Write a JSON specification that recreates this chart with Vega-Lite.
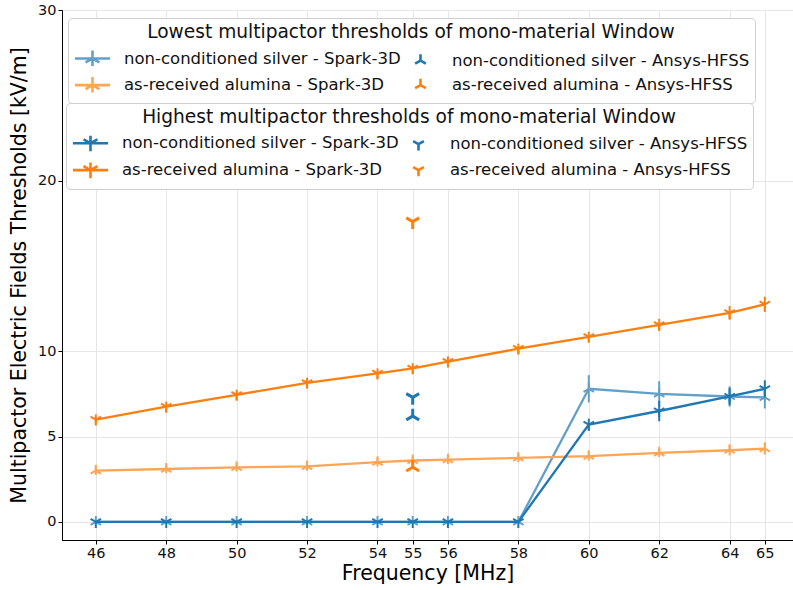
{
  "$schema": "https://vega.github.io/schema/vega-lite/v6.json",
  "width": 731,
  "height": 530,
  "autosize": {"type": "none"},
  "padding": {"left": 62, "top": 10, "right": 0, "bottom": 50},
  "config": {
    "font": "DejaVu Sans",
    "view": {"stroke": "#333", "strokeWidth": 1},
    "axis": {
      "domainColor": "#000", "tickColor": "#000", "tickSize": 4,
      "labelColor": "#111", "labelFontSize": 14.5, "titleColor": "#000",
      "titleFontSize": 20.5, "titleFontWeight": "normal",
      "gridColor": "#e6e6e6", "gridWidth": 1
    },
    "legend": {
      "titleFontSize": 18.6, "titleFontWeight": "normal", "titleColor": "#111",
      "titleAnchor": "middle", "titleLimit": 900, "labelFontSize": 16.5, "labelColor": "#111",
      "labelLimit": 600, "fillColor": "white", "strokeColor": "#d0d0d0",
      "cornerRadius": 4, "padding": 5, "rowPadding": 0, "columnPadding": -5,
      "symbolOpacity": 1, "symbolStrokeWidth": 2.6, "symbolFillColor": "transparent",
      "titlePadding": 4, "labelOffset": 19, "symbolOffset": 7, "symbolSize": 484
    }
  },
  "data": {"values": [
    {"f": 46, "v": 0, "lo": 0, "hi": 0, "series": "non-conditioned silver - Spark-3D", "grp": "low", "tool": "Spark"},
    {"f": 48, "v": 0, "lo": 0, "hi": 0, "series": "non-conditioned silver - Spark-3D", "grp": "low", "tool": "Spark"},
    {"f": 50, "v": 0, "lo": 0, "hi": 0, "series": "non-conditioned silver - Spark-3D", "grp": "low", "tool": "Spark"},
    {"f": 52, "v": 0, "lo": 0, "hi": 0, "series": "non-conditioned silver - Spark-3D", "grp": "low", "tool": "Spark"},
    {"f": 54, "v": 0, "lo": 0, "hi": 0, "series": "non-conditioned silver - Spark-3D", "grp": "low", "tool": "Spark"},
    {"f": 55, "v": 0, "lo": 0, "hi": 0, "series": "non-conditioned silver - Spark-3D", "grp": "low", "tool": "Spark"},
    {"f": 56, "v": 0, "lo": 0, "hi": 0, "series": "non-conditioned silver - Spark-3D", "grp": "low", "tool": "Spark"},
    {"f": 58, "v": 0, "lo": 0, "hi": 0, "series": "non-conditioned silver - Spark-3D", "grp": "low", "tool": "Spark"},
    {"f": 60, "v": 7.8, "lo": 7.0, "hi": 8.6, "series": "non-conditioned silver - Spark-3D", "grp": "low", "tool": "Spark"},
    {"f": 62, "v": 7.5, "lo": 6.75, "hi": 8.25, "series": "non-conditioned silver - Spark-3D", "grp": "low", "tool": "Spark"},
    {"f": 64, "v": 7.35, "lo": 6.75, "hi": 7.95, "series": "non-conditioned silver - Spark-3D", "grp": "low", "tool": "Spark"},
    {"f": 65, "v": 7.3, "lo": 6.65, "hi": 7.95, "series": "non-conditioned silver - Spark-3D", "grp": "low", "tool": "Spark"},
    {"f": 46, "v": 3.0, "lo": 2.75, "hi": 3.25, "series": "as-received alumina - Spark-3D", "grp": "low", "tool": "Spark"},
    {"f": 48, "v": 3.1, "lo": 2.85, "hi": 3.35, "series": "as-received alumina - Spark-3D", "grp": "low", "tool": "Spark"},
    {"f": 50, "v": 3.2, "lo": 2.95, "hi": 3.45, "series": "as-received alumina - Spark-3D", "grp": "low", "tool": "Spark"},
    {"f": 52, "v": 3.25, "lo": 3.0, "hi": 3.5, "series": "as-received alumina - Spark-3D", "grp": "low", "tool": "Spark"},
    {"f": 54, "v": 3.5, "lo": 3.25, "hi": 3.75, "series": "as-received alumina - Spark-3D", "grp": "low", "tool": "Spark"},
    {"f": 55, "v": 3.6, "lo": 3.35, "hi": 3.85, "series": "as-received alumina - Spark-3D", "grp": "low", "tool": "Spark"},
    {"f": 56, "v": 3.65, "lo": 3.4, "hi": 3.9, "series": "as-received alumina - Spark-3D", "grp": "low", "tool": "Spark"},
    {"f": 58, "v": 3.75, "lo": 3.5, "hi": 4.0, "series": "as-received alumina - Spark-3D", "grp": "low", "tool": "Spark"},
    {"f": 60, "v": 3.85, "lo": 3.6, "hi": 4.1, "series": "as-received alumina - Spark-3D", "grp": "low", "tool": "Spark"},
    {"f": 62, "v": 4.05, "lo": 3.8, "hi": 4.3, "series": "as-received alumina - Spark-3D", "grp": "low", "tool": "Spark"},
    {"f": 64, "v": 4.2, "lo": 3.9, "hi": 4.5, "series": "as-received alumina - Spark-3D", "grp": "low", "tool": "Spark"},
    {"f": 65, "v": 4.3, "lo": 3.95, "hi": 4.65, "series": "as-received alumina - Spark-3D", "grp": "low", "tool": "Spark"},
    {"f": 55, "v": 6.2, "lo": 6.2, "hi": 6.2, "series": "non-conditioned silver - Ansys-HFSS", "grp": "low", "tool": "Ansys"},
    {"f": 55, "v": 3.2, "lo": 3.2, "hi": 3.2, "series": "as-received alumina - Ansys-HFSS", "grp": "low", "tool": "Ansys"},
    {"f": 46, "v": 0, "lo": 0, "hi": 0, "series": "non-conditioned silver - Spark-3D", "grp": "high", "tool": "Spark"},
    {"f": 48, "v": 0, "lo": 0, "hi": 0, "series": "non-conditioned silver - Spark-3D", "grp": "high", "tool": "Spark"},
    {"f": 50, "v": 0, "lo": 0, "hi": 0, "series": "non-conditioned silver - Spark-3D", "grp": "high", "tool": "Spark"},
    {"f": 52, "v": 0, "lo": 0, "hi": 0, "series": "non-conditioned silver - Spark-3D", "grp": "high", "tool": "Spark"},
    {"f": 54, "v": 0, "lo": 0, "hi": 0, "series": "non-conditioned silver - Spark-3D", "grp": "high", "tool": "Spark"},
    {"f": 55, "v": 0, "lo": 0, "hi": 0, "series": "non-conditioned silver - Spark-3D", "grp": "high", "tool": "Spark"},
    {"f": 56, "v": 0, "lo": 0, "hi": 0, "series": "non-conditioned silver - Spark-3D", "grp": "high", "tool": "Spark"},
    {"f": 58, "v": 0, "lo": 0, "hi": 0, "series": "non-conditioned silver - Spark-3D", "grp": "high", "tool": "Spark"},
    {"f": 60, "v": 5.7, "lo": 5.35, "hi": 6.05, "series": "non-conditioned silver - Spark-3D", "grp": "high", "tool": "Spark"},
    {"f": 62, "v": 6.5, "lo": 5.9, "hi": 7.1, "series": "non-conditioned silver - Spark-3D", "grp": "high", "tool": "Spark"},
    {"f": 64, "v": 7.35, "lo": 6.85, "hi": 7.85, "series": "non-conditioned silver - Spark-3D", "grp": "high", "tool": "Spark"},
    {"f": 65, "v": 7.8, "lo": 7.3, "hi": 8.3, "series": "non-conditioned silver - Spark-3D", "grp": "high", "tool": "Spark"},
    {"f": 46, "v": 6.0, "lo": 5.7, "hi": 6.3, "series": "as-received alumina - Spark-3D", "grp": "high", "tool": "Spark"},
    {"f": 48, "v": 6.75, "lo": 6.45, "hi": 7.05, "series": "as-received alumina - Spark-3D", "grp": "high", "tool": "Spark"},
    {"f": 50, "v": 7.45, "lo": 7.15, "hi": 7.75, "series": "as-received alumina - Spark-3D", "grp": "high", "tool": "Spark"},
    {"f": 52, "v": 8.15, "lo": 7.85, "hi": 8.45, "series": "as-received alumina - Spark-3D", "grp": "high", "tool": "Spark"},
    {"f": 54, "v": 8.7, "lo": 8.4, "hi": 9.0, "series": "as-received alumina - Spark-3D", "grp": "high", "tool": "Spark"},
    {"f": 55, "v": 9.0, "lo": 8.7, "hi": 9.3, "series": "as-received alumina - Spark-3D", "grp": "high", "tool": "Spark"},
    {"f": 56, "v": 9.4, "lo": 9.1, "hi": 9.7, "series": "as-received alumina - Spark-3D", "grp": "high", "tool": "Spark"},
    {"f": 58, "v": 10.15, "lo": 9.85, "hi": 10.45, "series": "as-received alumina - Spark-3D", "grp": "high", "tool": "Spark"},
    {"f": 60, "v": 10.85, "lo": 10.55, "hi": 11.15, "series": "as-received alumina - Spark-3D", "grp": "high", "tool": "Spark"},
    {"f": 62, "v": 11.55, "lo": 11.2, "hi": 11.9, "series": "as-received alumina - Spark-3D", "grp": "high", "tool": "Spark"},
    {"f": 64, "v": 12.25, "lo": 11.85, "hi": 12.65, "series": "as-received alumina - Spark-3D", "grp": "high", "tool": "Spark"},
    {"f": 65, "v": 12.75, "lo": 12.3, "hi": 13.2, "series": "as-received alumina - Spark-3D", "grp": "high", "tool": "Spark"},
    {"f": 55, "v": 7.3, "lo": 7.3, "hi": 7.3, "series": "non-conditioned silver - Ansys-HFSS", "grp": "high", "tool": "Ansys"},
    {"f": 55, "v": 17.6, "lo": 17.6, "hi": 17.6, "series": "as-received alumina - Ansys-HFSS", "grp": "high", "tool": "Ansys"}
  ]},
  "encoding": {
    "x": {"field": "f", "type": "quantitative", "title": "Frequency [MHz]",
      "scale": {"domain": [45.04, 65.8], "nice": false, "zero": false},
      "axis": {"values": [46, 48, 50, 52, 54, 55, 56, 58, 60, 62, 64, 65], "titlePadding": 4}},
    "y": {"field": "v", "type": "quantitative", "title": "Multipactor Electric Fields Thresholds [kV/m]",
      "scale": {"domain": [-1.06, 30], "nice": false, "zero": false},
      "axis": {"values": [0, 5, 10, 20, 30], "titlePadding": 8}}
  },
  "layer": [
    {
      "transform": [{"filter": "datum.grp === 'low'"}],
      "layer": [
        {
          "mark": {"type": "point", "opacity": 0, "filled": false},
          "encoding": {
            "color": {"field": "series", "type": "nominal",
              "scale": {"domain": ["non-conditioned silver - Spark-3D", "as-received alumina - Spark-3D", "non-conditioned silver - Ansys-HFSS", "as-received alumina - Ansys-HFSS"],
                "range": ["#62a0ca", "#ffa556", "#1f77b4", "#ff7f0e"]},
              "legend": {"title": "Lowest multipactor thresholds of mono-material Window", "orient": "none", "legendX": 6, "legendY": 8, "columns": 2}},
            "shape": {"field": "series", "type": "nominal",
              "scale": {"domain": ["non-conditioned silver - Spark-3D", "as-received alumina - Spark-3D", "non-conditioned silver - Ansys-HFSS", "as-received alumina - Ansys-HFSS"],
                "range": ["M-1.6,0H1.6M0,0V-0.73M0,0L-0.63,0.36M0,0L0.63,0.36M0,-0.68V0.68", "M-1.6,0H1.6M0,0V-0.73M0,0L-0.63,0.36M0,0L0.63,0.36M0,-0.68V0.68", "M0,0V-0.57M0,0L-0.49,0.28M0,0L0.49,0.28", "M0,0V-0.57M0,0L-0.49,0.28M0,0L0.49,0.28"]},
              "legend": {"title": "Lowest multipactor thresholds of mono-material Window", "orient": "none", "legendX": 6, "legendY": 8, "columns": 2}}
          }
        },
        {
          "transform": [{"filter": "datum.tool === 'Spark'"}],
          "mark": {"type": "line", "strokeWidth": 2.3},
          "encoding": {"color": {"field": "series", "type": "nominal", "legend": null}}
        },
        {
          "transform": [{"filter": "datum.tool === 'Spark'"}],
          "mark": {"type": "rule", "strokeWidth": 2},
          "encoding": {"y": {"field": "lo", "type": "quantitative"}, "y2": {"field": "hi"}, "color": {"field": "series", "type": "nominal", "legend": null}}
        },
        {
          "transform": [{"filter": "datum.tool === 'Spark'"}],
          "mark": {"type": "point", "filled": false, "strokeWidth": 2, "size": 144, "opacity": 1, "shape": "M0,0V-1M0,0L-0.87,0.5M0,0L0.87,0.5"},
          "encoding": {"color": {"field": "series", "type": "nominal", "legend": null}}
        },
        {
          "transform": [{"filter": "datum.tool === 'Ansys'"}],
          "mark": {"type": "point", "filled": false, "strokeWidth": 3, "size": 220, "opacity": 1, "shape": "M0,0V-1M0,0L-0.87,0.5M0,0L0.87,0.5"},
          "encoding": {"color": {"field": "series", "type": "nominal", "legend": null}}
        }
      ]
    },
    {
      "transform": [{"filter": "datum.grp === 'high'"}],
      "layer": [
        {
          "mark": {"type": "point", "opacity": 0, "filled": false},
          "encoding": {
            "color": {"field": "series", "type": "nominal",
              "scale": {"domain": ["non-conditioned silver - Spark-3D", "as-received alumina - Spark-3D", "non-conditioned silver - Ansys-HFSS", "as-received alumina - Ansys-HFSS"],
                "range": ["#1f77b4", "#ff7f0e", "#1f77b4", "#ff7f0e"]},
              "legend": {"title": "Highest multipactor thresholds of mono-material Window", "orient": "none", "legendX": 4, "legendY": 93, "columns": 2}},
            "shape": {"field": "series", "type": "nominal",
              "scale": {"domain": ["non-conditioned silver - Spark-3D", "as-received alumina - Spark-3D", "non-conditioned silver - Ansys-HFSS", "as-received alumina - Ansys-HFSS"],
                "range": ["M-1.6,0H1.6M0,0V0.73M0,0L-0.63,-0.36M0,0L0.63,-0.36M0,-0.68V0.68", "M-1.6,0H1.6M0,0V0.73M0,0L-0.63,-0.36M0,0L0.63,-0.36M0,-0.68V0.68", "M0,0V0.57M0,0L-0.49,-0.28M0,0L0.49,-0.28", "M0,0V0.57M0,0L-0.49,-0.28M0,0L0.49,-0.28"]},
              "legend": {"title": "Highest multipactor thresholds of mono-material Window", "orient": "none", "legendX": 4, "legendY": 93, "columns": 2}}
          }
        },
        {
          "transform": [{"filter": "datum.tool === 'Spark'"}],
          "mark": {"type": "line", "strokeWidth": 2.3},
          "encoding": {"color": {"field": "series", "type": "nominal", "legend": null}}
        },
        {
          "transform": [{"filter": "datum.tool === 'Spark'"}],
          "mark": {"type": "rule", "strokeWidth": 2},
          "encoding": {"y": {"field": "lo", "type": "quantitative"}, "y2": {"field": "hi"}, "color": {"field": "series", "type": "nominal", "legend": null}}
        },
        {
          "transform": [{"filter": "datum.tool === 'Spark'"}],
          "mark": {"type": "point", "filled": false, "strokeWidth": 2, "size": 144, "opacity": 1, "shape": "M0,0V1M0,0L-0.87,-0.5M0,0L0.87,-0.5"},
          "encoding": {"color": {"field": "series", "type": "nominal", "legend": null}}
        },
        {
          "transform": [{"filter": "datum.tool === 'Ansys'"}],
          "mark": {"type": "point", "filled": false, "strokeWidth": 3, "size": 220, "opacity": 1, "shape": "M0,0V1M0,0L-0.87,-0.5M0,0L0.87,-0.5"},
          "encoding": {"color": {"field": "series", "type": "nominal", "legend": null}}
        }
      ]
    }
  ],
  "resolve": {"scale": {"color": "independent", "shape": "independent"}}
}
